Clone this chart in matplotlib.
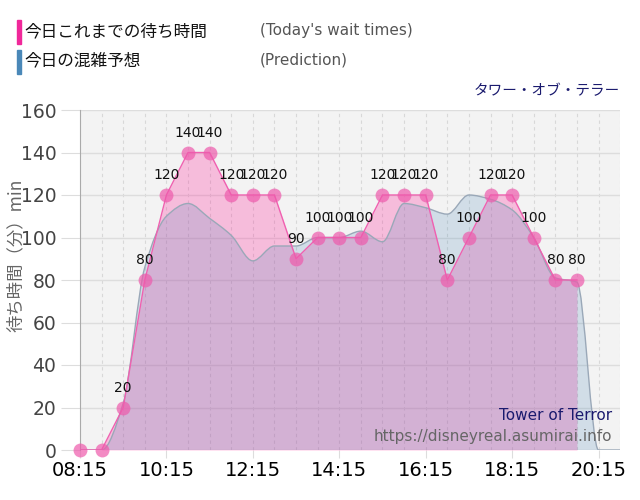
import numpy as np
import matplotlib.pyplot as plt
from matplotlib.path import Path
from matplotlib.patches import PathPatch

plt.rcParams['font.family'] = ['DejaVu Sans', 'Noto Sans CJK JP']
JP = ['Noto Sans CJK JP', 'DejaVu Sans']

# 実績 (30分ごと, 08:15 - 19:45)
actual_times = ['08:15', '08:45', '09:15', '09:45', '10:15', '10:45', '11:15', '11:45',
                '12:15', '12:45', '13:15', '13:45', '14:15', '14:45', '15:15', '15:45',
                '16:15', '16:45', '17:15', '17:45', '18:15', '18:45', '19:15', '19:45']
actual_wait = [0, 0, 20, 80, 120, 140, 140, 120, 120, 120, 90, 100, 100, 100,
               120, 120, 120, 80, 100, 120, 120, 100, 80, 80]

# 予想 (30分ごと, 08:15 - 20:45)
pred_times = actual_times + ['20:15', '20:45']
pred_wait = [0, 0, 22, 86, 110, 116, 109, 101, 89, 96, 96, 100, 100, 103,
             98, 116, 114, 111, 120, 118, 113, 100, 81, 79, 0, 0]

xtick_labels = ['08:15', '10:15', '12:15', '14:15', '16:15', '18:15', '20:15']
ytick_values = [0, 20, 40, 60, 80, 100, 120, 140, 160]


def to_min(t):
    h, m = t.split(':')
    return int(h) * 60 + int(m)


ax_x = np.array([to_min(t) for t in actual_times], dtype=float)
ax_y = np.array(actual_wait, dtype=float)
px = np.array([to_min(t) for t in pred_times], dtype=float)
py = np.array(pred_wait, dtype=float)


def smooth_path(x, y, close=True):
    # monotone cubic bezier through the points
    n = len(x)
    d = np.diff(y) / np.diff(x)
    m = np.zeros(n)
    m[0], m[-1] = d[0], d[-1]
    for i in range(1, n - 1):
        if d[i - 1] * d[i] <= 0:
            m[i] = 0
        else:
            m[i] = 2 / (1 / d[i - 1] + 1 / d[i])
    verts = [(x[0], y[0])]
    codes = [Path.MOVETO]
    for i in range(n - 1):
        h = (x[i + 1] - x[i]) / 3
        verts += [(x[i] + h, y[i] + m[i] * h), (x[i + 1] - h, y[i + 1] - m[i + 1] * h),
                  (x[i + 1], y[i + 1])]
        codes += [Path.CURVE4] * 3
    if close:
        verts += [(x[-1], 0), (x[0], 0), (x[0], y[0])]
        codes += [Path.LINETO, Path.LINETO, Path.CLOSEPOLY]
    return Path(verts, codes)


fig = plt.figure(figsize=(6.4, 5), dpi=100)
ax = fig.add_axes([0.125, 0.1, 0.844, 0.68])
ax.set_facecolor('#f3f3f3')

# 実績の塗り
ax.fill_between(ax_x, ax_y, 0, color='#ff1a96', alpha=0.25, lw=0, zorder=2)
ax.plot(ax_x, ax_y, color='#f060b0', lw=1, zorder=4)

# 予想
ax.add_patch(PathPatch(smooth_path(px, py), facecolor='#4a88b8', alpha=0.2,
                       edgecolor='none', zorder=3))
ax.add_patch(PathPatch(smooth_path(px, py, close=False), facecolor='none',
                       edgecolor='#9aa8b8', lw=1, zorder=3))

ax.plot(ax_x, ax_y, 'o', color='#ee5aac', alpha=0.7, ms=10, mec='none',
        zorder=5, clip_on=False)
for xv, yv in zip(ax_x, ax_y):
    if xv == ax_x[0] or xv == ax_x[1]:
        continue
    ax.text(xv, yv + 6, str(int(yv)), ha='center', va='bottom', fontsize=10,
            color='#111111', zorder=6)

ax.set_xlim(to_min('08:15'), to_min('20:45'))
ax.set_ylim(0, 160)
ax.set_xticks([to_min(t) for t in xtick_labels])
ax.set_xticklabels(xtick_labels, fontsize=14, color='black')
ax.set_xticks(np.arange(to_min('08:15'), to_min('20:45') + 1, 30), minor=True)
ax.set_yticks(ytick_values)
ax.set_yticklabels([str(v) for v in ytick_values], fontsize=13.5, color='#444444')
ax.tick_params(axis='y', length=14, color='#dddddd', pad=3)
ax.tick_params(axis='x', length=6, color='#dddddd', pad=2)
ax.tick_params(axis='x', which='minor', length=0)
ax.grid(axis='y', color='#dddddd', lw=1, zorder=1)
ax.grid(axis='x', which='both', color='#d8d8d8', lw=0.8, ls=(0, (3, 3)), zorder=1)
ax.set_axisbelow(True)
for s in ['top', 'right', 'bottom']:
    ax.spines[s].set_visible(False)
ax.spines['left'].set_color('#aaaaaa')

fig.text(16 / 640, 1 - 255 / 500, '待ち時間（分）min', rotation=90, fontsize=12.5,
         color='#666666', ha='center', va='center', family=JP)

ax.text(0.985, (450 - 415) / 340, 'Tower of Terror', transform=ax.transAxes,
        ha='right', va='center', fontsize=11, color='#1a1a6e', zorder=7)
ax.text(0.985, (450 - 436) / 340, 'https://disneyreal.asumirai.info',
        transform=ax.transAxes, ha='right', va='center', fontsize=11,
        color='#666666', zorder=7)

# ヘッダー
fig.patches.append(plt.Rectangle((17 / 640, 1 - 44 / 500), 4 / 640, 24 / 500,
                                 transform=fig.transFigure, color='#f0289a'))
fig.patches.append(plt.Rectangle((17 / 640, 1 - 74 / 500), 4 / 640, 24 / 500,
                                 transform=fig.transFigure, color='#4a88b8'))
fig.text(24 / 640, 1 - 32 / 500, '今日これまでの待ち時間', fontsize=12, va='center',
         color='#111111', family=JP)
fig.text(24 / 640, 1 - 61 / 500, '今日の混雑予想', fontsize=12, va='center',
         color='#111111', family=JP)
fig.text(260 / 640, 1 - 31 / 500, "(Today's wait times)", fontsize=11, va='center',
         color='#555555')
fig.text(260 / 640, 1 - 60 / 500, '(Prediction)', fontsize=11, va='center',
         color='#555555')
fig.text(620 / 640, 1 - 91 / 500, 'タワー・オブ・テラー', fontsize=10.5, va='center',
         ha='right', color='#1a1a6e', family=JP)

fig.savefig('out.png', dpi=100)
